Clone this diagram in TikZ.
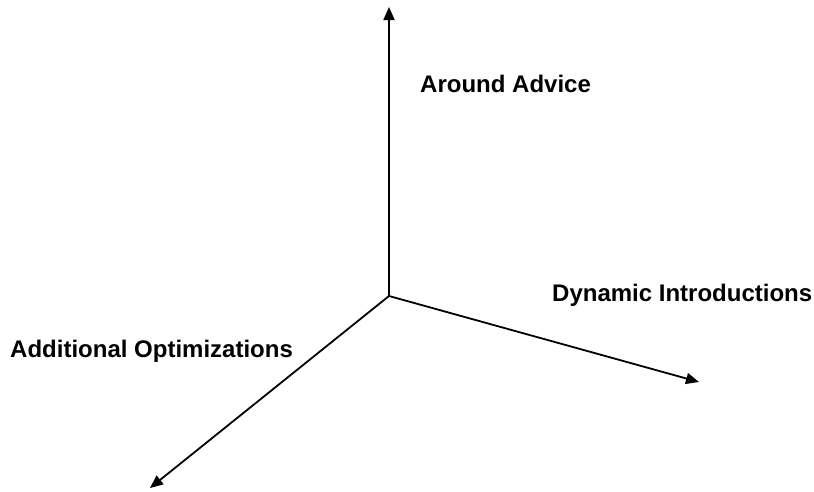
\documentclass[tikz,border=0pt]{standalone}
\usepackage{fontspec}
\setmainfont{Liberation Sans}
\usetikzlibrary{arrows.meta}
\begin{document}
\begin{tikzpicture}[x=1pt,y=-1pt,
  axis/.style={line width=1.8pt,-{Triangle[length=13pt,width=11pt]}},
  axislabel/.style={anchor=base west,inner sep=0pt,font=\fontsize{24}{28}\selectfont\bfseries}]
  \useasboundingbox (0,0) rectangle (814,491);
  % axes from a common origin
  \coordinate (o) at (389,296);
  \coordinate (up) at (389,7);
  \coordinate (right) at (699,382);
  \coordinate (downleft) at (150,488);
  \draw[axis] (o) -- (up);
  \draw[axis] (o) -- (right);
  \draw[axis] (o) -- (downleft);
  % axis labels
  \node[axislabel] (around) at (420,92) {Around Advice};
  \node[axislabel] (dynamic) at (552,301) {Dynamic Introductions};
  \node[axislabel] (additional) at (10,357) {Additional Optimizations};
\end{tikzpicture}
\end{document}
